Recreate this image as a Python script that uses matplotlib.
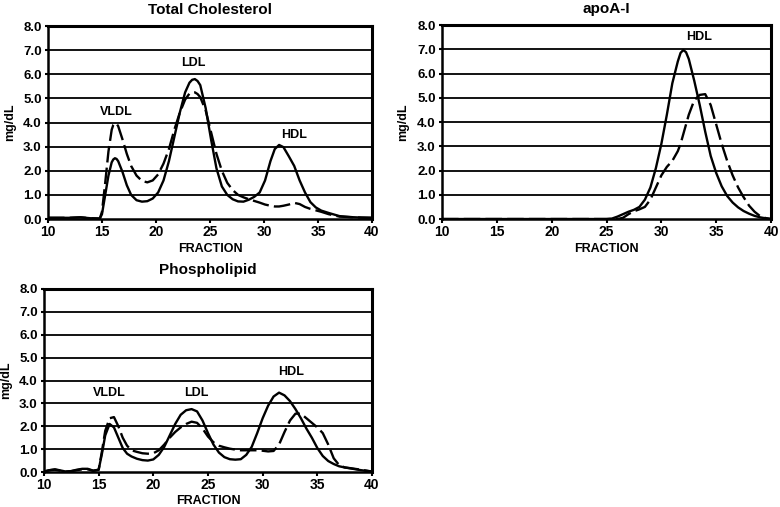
import matplotlib
matplotlib.use("Agg")
import matplotlib.pyplot as plt

plt.rcParams['font.family'] = ['Liberation Sans', 'DejaVu Sans']
plt.rcParams['font.weight'] = 'bold'
plt.rcParams['lines.solid_joinstyle'] = 'round'
plt.rcParams['lines.dash_joinstyle'] = 'round'

# Total cholesterol
tc_x = [10, 11, 12, 13, 14, 14.8, 15.0, 15.3, 15.6, 15.9, 16.05, 16.2, 16.35, 16.5, 16.9, 17.3, 17.7,
        18.2, 18.7, 19.2, 19.7, 20.2, 20.7, 21.2, 21.7, 22.2, 22.7, 23.1, 23.35, 23.6, 23.85, 24.1,
        24.6, 25.1, 25.6, 26.1, 26.6, 27.1, 27.6, 28.1, 28.6, 29.1, 29.6, 30.1, 30.6,
        31.0, 31.4, 31.8, 32.3, 32.8, 33.3, 33.8, 34.3, 34.8, 35.3, 36, 37, 38, 39, 40]
tc_solid = [0.05, 0.05, 0.05, 0.07, 0.03, 0.02, 0.2, 1.0, 1.8, 2.35, 2.47, 2.52, 2.49, 2.4, 1.95, 1.4, 1.0,
            0.78, 0.72, 0.74, 0.85, 1.1, 1.6, 2.4, 3.4, 4.4, 5.25, 5.65, 5.77, 5.8, 5.72, 5.55,
            4.6, 3.3, 2.1, 1.35, 1.0, 0.82, 0.73, 0.72, 0.8, 0.92, 1.1, 1.6, 2.4,
            2.9, 3.07, 2.98, 2.6, 2.2, 1.6, 1.1, 0.7, 0.48, 0.35, 0.25, 0.12, 0.08, 0.06, 0.05]
tc_dash = [0.05, 0.05, 0.05, 0.07, 0.03, 0.02, 0.3, 1.5, 2.8, 3.7, 3.9, 3.98, 3.95, 3.85, 3.3, 2.7, 2.2,
           1.8, 1.58, 1.52, 1.6, 1.85, 2.3, 2.9, 3.7, 4.4, 4.95, 5.2, 5.25, 5.25, 5.18, 5.05,
           4.5, 3.6, 2.7, 2.0, 1.5, 1.2, 1.0, 0.9, 0.82, 0.75, 0.68, 0.6, 0.55,
           0.52, 0.52, 0.55, 0.6, 0.67, 0.62, 0.5, 0.42, 0.36, 0.3, 0.2, 0.1, 0.08, 0.06, 0.05]

# apoA-I
apo_x = [10, 25, 25.5, 26, 26.5, 27, 27.5, 28, 28.5, 29, 29.5, 30, 30.5, 31, 31.5, 31.75, 32, 32.25,
         32.5, 33, 33.5, 34, 34.5, 35, 35.5, 36, 36.5, 37, 37.5, 38, 38.5, 39, 39.5, 40]
apo_solid = [0, 0, 0.02, 0.1, 0.2, 0.3, 0.38, 0.5, 0.8, 1.3, 2.1, 3.1, 4.3, 5.6, 6.5, 6.85, 6.97, 6.88,
             6.6, 5.7, 4.7, 3.6, 2.6, 1.9, 1.35, 0.95, 0.68, 0.48, 0.33, 0.22, 0.13, 0.07, 0.03, 0]
apo_dash = [0, 0, 0, 0, 0.05, 0.2, 0.32, 0.4, 0.5, 0.8, 1.3, 1.8, 2.15, 2.4, 2.8, 3.1, 3.5, 3.9,
            4.3, 4.9, 5.12, 5.15, 4.7, 3.9, 3.1, 2.4, 1.8, 1.3, 0.9, 0.55, 0.3, 0.12, 0.04, 0]

# Phospholipid
pl_x = [10, 10.5, 11, 11.5, 12, 12.5, 13, 13.5, 14, 14.5, 15, 15.3, 15.6, 16.0, 16.4, 16.8,
        17.2, 17.6, 18, 18.5, 19, 19.5, 20, 20.5, 21, 21.5, 22, 22.5, 23, 23.5, 24, 24.5,
        25, 25.5, 26, 26.5, 27, 27.5, 28, 28.5, 29, 29.5, 30, 30.5, 31, 31.5, 32, 32.5,
        33, 33.5, 34, 34.5, 35, 35.5, 36, 36.5, 37, 37.5, 38, 39, 40]
pl_solid = [0.02, 0.08, 0.12, 0.07, 0.02, 0.04, 0.1, 0.14, 0.14, 0.06, 0.1, 0.8, 1.6, 2.1, 1.95, 1.5,
            1.05, 0.8, 0.68, 0.58, 0.52, 0.5, 0.55, 0.75, 1.1, 1.6, 2.1, 2.5, 2.7, 2.75, 2.65, 2.25,
            1.7, 1.2, 0.85, 0.65, 0.56, 0.54, 0.56, 0.75, 1.1, 1.7, 2.35, 2.9, 3.3, 3.47, 3.35, 3.1,
            2.75, 2.35, 1.9, 1.5, 1.05, 0.7, 0.48, 0.35, 0.25, 0.2, 0.16, 0.08, 0.02]
pl_dash = [0.02, 0.08, 0.1, 0.06, 0.02, 0.04, 0.08, 0.12, 0.12, 0.05, 0.1, 0.9, 1.8, 2.35, 2.4, 2.0,
           1.5, 1.15, 0.95, 0.88, 0.82, 0.8, 0.82, 0.95, 1.2, 1.5, 1.75, 1.95, 2.1, 2.2, 2.15, 1.9,
           1.55, 1.3, 1.15, 1.08, 1.02, 0.98, 0.95, 0.95, 0.95, 0.95, 0.93, 0.9, 0.92, 1.2, 1.75, 2.25,
           2.55, 2.55, 2.35, 2.15, 1.95, 1.7, 1.2, 0.6, 0.3, 0.2, 0.17, 0.1, 0.02]

x_ticks = [10, 15, 20, 25, 30, 35, 40]
y_ticks = [0, 1, 2, 3, 4, 5, 6, 7, 8]

DASH = (0, (7, 2.2))


def style_panel(ax, title, title_pad, ylab_x, xlab_y):
    ax.set_xlim(10, 40)
    ax.set_ylim(0, 8)
    ax.set_xticks(x_ticks)
    ax.set_yticks(y_ticks)
    ax.set_yticklabels([f"{v:.1f}" for v in y_ticks], fontsize=9.5, fontweight='bold')
    ax.set_xticklabels([str(v) for v in x_ticks], fontsize=10, fontweight='bold')
    ax.tick_params(axis='x', direction='out', length=3, width=1.5, pad=1)
    ax.tick_params(axis='y', direction='out', length=2.5, width=1.5, pad=2)
    for y in range(1, 8):
        ax.axhline(y, color='black', lw=1.3, zorder=1)
    for side in ['top', 'right']:
        ax.spines[side].set_linewidth(2.2)
    for side in ['left', 'bottom']:
        ax.spines[side].set_linewidth(1.8)
    ax.set_title(title, fontsize=11, fontweight='bold', pad=title_pad)
    ax.set_ylabel('mg/dL', fontsize=9, fontweight='bold')
    ax.yaxis.set_label_coords(ylab_x, 0.5)
    ax.set_xlabel('FRACTION', fontsize=9, fontweight='bold')
    ax.xaxis.set_label_coords(0.5, xlab_y)


fig = plt.figure(figsize=(7.8, 5.07), dpi=100)
ax_tc = fig.add_axes([0.0615, 0.568, 0.4154, 0.3807])
ax_apo = fig.add_axes([0.5667, 0.568, 0.4218, 0.3826])
ax_pl = fig.add_axes([0.0564, 0.069, 0.4205, 0.361])

ax_tc.plot(tc_x, tc_solid, color='black', lw=1.7, zorder=3)
ax_tc.plot(tc_x, tc_dash, color='black', lw=1.7, ls=DASH, zorder=3)
style_panel(ax_tc, 'Total Cholesterol', 9, -0.099, -0.125)
ax_tc.text(16.3, 4.45, 'VLDL', ha='center', va='center', fontsize=9, fontweight='bold')
ax_tc.text(23.5, 6.45, 'LDL', ha='center', va='center', fontsize=9, fontweight='bold')
ax_tc.text(32.8, 3.48, 'HDL', ha='center', va='center', fontsize=9, fontweight='bold')

ax_apo.plot(apo_x, apo_solid, color='black', lw=1.7, zorder=3)
ax_apo.plot(apo_x, apo_dash, color='black', lw=1.7, ls=DASH, zorder=3)
style_panel(ax_apo, 'apoA-I', 9, -0.1, -0.125)
ax_apo.text(33.4, 7.49, 'HDL', ha='center', va='center', fontsize=9, fontweight='bold')

ax_pl.plot(pl_x, pl_solid, color='black', lw=1.7, zorder=3)
ax_pl.plot(pl_x, pl_dash, color='black', lw=1.7, ls=DASH, zorder=3)
style_panel(ax_pl, 'Phospholipid', 11, -0.098, -0.125)
ax_pl.text(16.0, 3.44, 'VLDL', ha='center', va='center', fontsize=9, fontweight='bold')
ax_pl.text(23.9, 3.44, 'LDL', ha='center', va='center', fontsize=9, fontweight='bold')
ax_pl.text(32.6, 4.38, 'HDL', ha='center', va='center', fontsize=9, fontweight='bold')

fig.savefig('out.png', dpi=100)
